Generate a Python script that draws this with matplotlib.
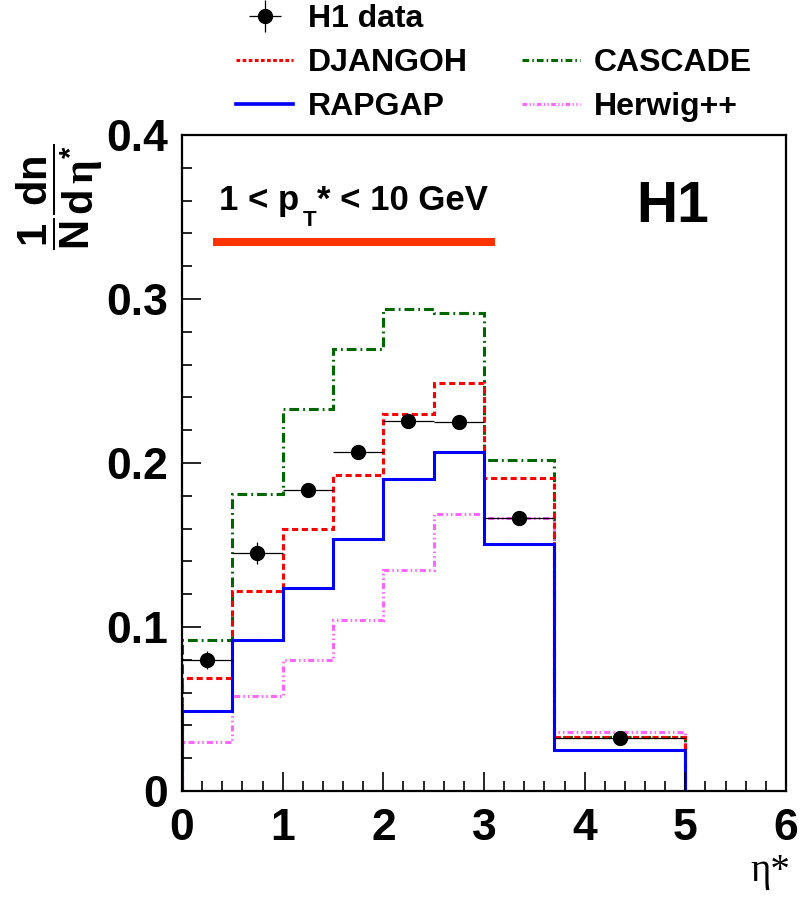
import matplotlib
matplotlib.use('Agg')
import matplotlib.pyplot as plt
from matplotlib.lines import Line2D
from matplotlib.transforms import offset_copy
import numpy as np

plt.rcParams['font.family'] = ['Liberation Sans', 'DejaVu Sans']
plt.rcParams['font.weight'] = 'bold'
plt.rcParams['mathtext.fontset'] = 'custom'
plt.rcParams['mathtext.rm'] = 'Liberation Sans:bold'
plt.rcParams['mathtext.bf'] = 'Liberation Sans:bold'
plt.rcParams['mathtext.it'] = 'Liberation Serif'

# eta* bins
edges = [0, 0.5, 1.0, 1.5, 2.0, 2.5, 3.0, 3.7, 5.0]
centers = [0.25, 0.75, 1.25, 1.75, 2.25, 2.75, 3.35, 4.35]

h1_data = [0.080, 0.145, 0.1835, 0.2065, 0.2255, 0.225, 0.1665, 0.0325]
h1_err = [0.0054, 0.0066, 0.003, 0.003, 0.003, 0.003, 0.003, 0.002]
djangoh = [0.069, 0.122, 0.1596, 0.1927, 0.230, 0.249, 0.1906, 0.0331]
cascade = [0.092, 0.181, 0.233, 0.2695, 0.294, 0.2917, 0.2018, 0.0331]
rapgap = [0.049, 0.092, 0.124, 0.1535, 0.190, 0.2069, 0.1508, 0.0248]
herwig = [0.030, 0.058, 0.080, 0.104, 0.135, 0.169, 0.1665, 0.0362]

fig = plt.figure(figsize=(8.12, 9.07), dpi=100)
ax = fig.add_axes((182 / 812, 116 / 907, 604 / 812, 656 / 907))

x_err = [[c - lo for c, lo in zip(centers, edges[:-1])],
         [hi - c for c, hi in zip(centers, edges[1:])]]

lw = 2.2
ax.stairs(cascade, edges, baseline=0, color='#006600', lw=lw,
          linestyle=(0, (3.2, 1.3, 0.6, 1.3)))
ax.stairs(herwig, edges, baseline=0, color='#ff66ff', lw=lw,
          linestyle=(0, (2.0, 1.0, 0.5, 1.0, 0.5, 1.0)))
ax.stairs(djangoh, edges, baseline=0, color='#ff0000', lw=lw,
          linestyle=(0, (2.0, 1.2)))
ax.stairs(rapgap, edges, baseline=0, color='#0000ff', lw=lw, linestyle='-')
eb = ax.errorbar(centers, h1_data, yerr=h1_err, xerr=x_err, fmt='o',
                 color='black', ms=10, elinewidth=0.9, capsize=0, zorder=5)

ax.set_xlim(0, 6)
ax.set_ylim(0, 0.4)
ax.set_xticks(np.arange(0, 7, 1))
ax.set_xticks(np.arange(0, 6.01, 0.2), minor=True)
ax.set_yticks([0, 0.1, 0.2, 0.3, 0.4])
ax.set_yticklabels(['0', '0.1', '0.2', '0.3', '0.4'])
ax.set_yticks(np.arange(0, 0.401, 0.02), minor=True)
ax.tick_params(which='both', direction='in', top=False, right=False,
               labelsize=32, width=1.2)
ax.tick_params(which='major', length=14)
ax.tick_params(which='minor', length=7)
ax.tick_params(axis='x', pad=12)
ax.tick_params(axis='y', pad=10)
for sp in ax.spines.values():
    sp.set_linewidth(1.6)

# pT range text, built in pieces so the subscript sits low like ROOT's
fig.canvas.draw()
renderer = fig.canvas.get_renderer()
t1 = ax.text(0.37, 0.354, '1 < p', fontsize=25, ha='left', va='baseline')
w1 = t1.get_window_extent(renderer).width
t2 = ax.text(0.37, 0.354, 'T', fontsize=16, ha='left', va='baseline',
             transform=offset_copy(ax.transData, fig, x=w1 + 3, y=-16, units='dots'))
w2 = t2.get_window_extent(renderer).width
ax.text(0.37, 0.354, '* < 10 GeV', fontsize=25, ha='left', va='baseline',
        transform=offset_copy(ax.transData, fig, x=w1 + w2 + 4, y=0, units='dots'))
ax.plot([0.305, 3.11], [0.335, 0.335], color='#ff3300', lw=5.8,
        solid_capstyle='butt')
ax.text(4.51, 0.347, 'H1', fontsize=41, ha='left', va='baseline')

# axis titles
fig.text(60 / 812, 1 - 197 / 907,
         r'$\dfrac{\mathrm{1}}{\mathrm{N}}\dfrac{\mathrm{dn}}{\mathrm{d}\,\eta^{*}}$',
         rotation=90, fontsize=30, ha='center', va='center')
fig.text(790 / 812, 1 - 872 / 907, 'η*', fontsize=28, ha='right',
         va='center', fontweight='normal', family=['Liberation Serif'])

blank = Line2D([], [], alpha=0)
handles = [eb, Line2D([], [], color='#ff0000', lw=lw, linestyle=(0, (1.2, 0.8))),
           Line2D([], [], color='#0000ff', lw=lw * 1.2),
           blank,
           Line2D([], [], color='#006600', lw=lw, linestyle=(0, (2.2, 1.0, 0.5, 1.0))),
           Line2D([], [], color='#ff66ff', lw=lw, linestyle=(0, (1.5, 0.8, 0.4, 0.8, 0.4, 0.8)))]
labels = ['H1 data', 'DJANGOH', 'RAPGAP', '', 'CASCADE', 'Herwig++']
fig.legend(handles, labels, ncol=2, loc='upper left',
           bbox_to_anchor=(236 / 812, 1 - 4 / 907), frameon=False,
           prop={'size': 23, 'weight': 'bold'}, handlelength=1.8,
           handletextpad=0.45, columnspacing=1.7, labelspacing=0.44,
           borderpad=0.0, borderaxespad=0.0)

fig.savefig('out.png', dpi=100)
